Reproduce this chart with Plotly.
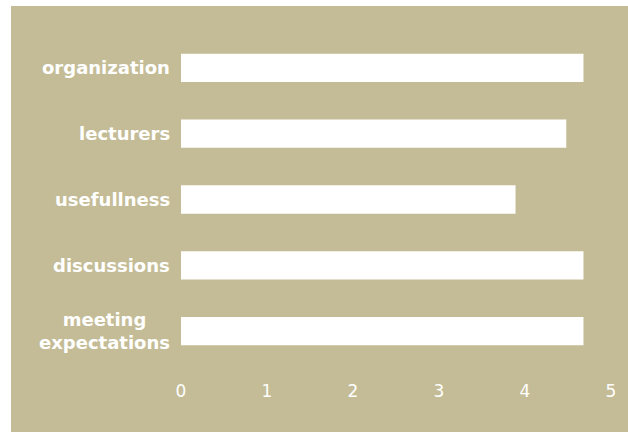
import plotly.graph_objects as go

categories = ["organization", "lecturers", "usefullness", "discussions", "meeting<br>expectations"]
values = [4.68, 4.48, 3.89, 4.68, 4.68]
tick_values = [0, 1, 2, 3, 4, 5]
tick_labels = ["0", "1", "2", "3", "4", "5"]

TAN = "#c4bc96"
W, H = 628, 432
L, R, T, B = 181, 17, 35, 68
pw, ph = W - L - R, H - T - B

fig = go.Figure(
    go.Bar(
        x=values,
        y=categories,
        orientation="h",
        marker=dict(color="white", line=dict(width=0)),
        width=0.43,
        hoverinfo="skip",
    )
)

annotations = [
    dict(
        x=0, xref="paper", y=c, yref="y",
        text=c, showarrow=False, xanchor="right", yanchor="middle",
        align="center", xshift=-9,
        font=dict(family="DejaVu Sans", size=18, color="white", weight="bold"),
    )
    for c in categories
]

fig.update_layout(
    width=W, height=H,
    margin=dict(l=L, r=R, t=T, b=B, pad=0),
    paper_bgcolor="white",
    plot_bgcolor=TAN,
    showlegend=False,
    annotations=annotations,
    shapes=[dict(
        type="rect", xref="paper", yref="paper", layer="below",
        x0=(11 - L) / pw, x1=(W + 5 - L) / pw,
        y0=(T + ph - (H + 5)) / ph, y1=(T + ph - 6) / ph,
        fillcolor=TAN, line=dict(width=0),
    )],
    xaxis=dict(
        range=[0, 5], tickvals=tick_values, ticktext=tick_labels,
        showgrid=False, zeroline=False, showline=False, ticks="",
        tickfont=dict(family="DejaVu Sans", size=17, color="white"),
        ticklabelstandoff=15, fixedrange=True,
    ),
    yaxis=dict(
        autorange="reversed", showticklabels=False, showgrid=False,
        zeroline=False, showline=False, ticks="", fixedrange=True,
    ),
)

fig.write_html(
    "out.html",
    config={"displayModeBar": False},
    post_script="document.body.style.margin='0';document.body.style.overflow='hidden';",
)
